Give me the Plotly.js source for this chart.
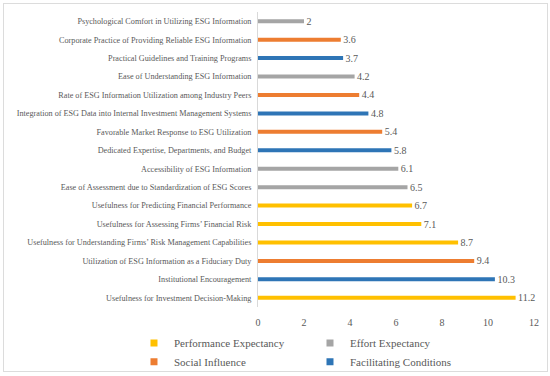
<!DOCTYPE html>
<html>
<head>
<meta charset="utf-8">
<script src="https://cdn.plot.ly/plotly-3.0.1.min.js"></script>
<style>
html,body{margin:0;padding:0;background:#fff;}
#wrap{position:relative;width:550px;height:376px;}
#chart{width:550px;height:376px;}
#frame{position:absolute;left:3px;top:3px;width:543px;height:367px;border:1px solid #DCDCDC;pointer-events:none;}
</style>
</head>
<body>
<div id="wrap"><div id="chart"></div><div id="frame"></div></div>
<script>
// Categories listed bottom to top
var categories = [
  "Usefulness for Investment Decision-Making",
  "Institutional Encouragement",
  "Utilization of ESG Information as a Fiduciary Duty",
  "Usefulness for Understanding Firms\u2019 Risk Management Capabilities",
  "Usefulness for Assessing Firms\u2019 Financial Risk",
  "Usefulness for Predicting Financial Performance",
  "Ease of Assessment due to Standardization of ESG Scores",
  "Accessibility of ESG Information",
  "Dedicated Expertise, Departments, and Budget",
  "Favorable Market Response to ESG Utilization",
  "Integration of ESG Data into Internal Investment Management Systems",
  "Rate of ESG Information Utilization among Industry Peers",
  "Ease of Understanding ESG Information",
  "Practical Guidelines and Training Programs",
  "Corporate Practice of Providing Reliable ESG Information",
  "Psychological Comfort in Utilizing ESG Information"
];
var values = [11.2, 10.3, 9.4, 8.7, 7.1, 6.7, 6.5, 6.1, 5.8, 5.4, 4.8, 4.4, 4.2, 3.7, 3.6, 2];
var groups = ["Performance Expectancy","Facilitating Conditions","Social Influence","Performance Expectancy",
  "Performance Expectancy","Performance Expectancy","Effort Expectancy","Effort Expectancy",
  "Facilitating Conditions","Social Influence","Facilitating Conditions","Social Influence",
  "Effort Expectancy","Facilitating Conditions","Social Influence","Effort Expectancy"];
var groupNames = ["Performance Expectancy","Effort Expectancy","Social Influence","Facilitating Conditions"];
var groupColors = ["#FFC000","#A5A5A5","#ED7D31","#2E75B6"];
var groupLegend = ["legend","legend","legend2","legend2"];
var xTicks = [0, 2, 4, 6, 8, 10, 12];

var font = "'Liberation Serif', 'DejaVu Serif', serif";
var traces = [];
groupNames.forEach(function(g, gi){
  var xs = [], ys = [], ts = [];
  for (var i = 0; i < categories.length; i++) {
    if (groups[i] === g) { xs.push(values[i]); ys.push(categories[i]); ts.push("\u00A0" + values[i]); }
  }
  traces.push({
    type: 'bar', orientation: 'h', x: xs, y: ys, name: g,
    marker: {color: groupColors[gi]},
    text: ts, textposition: 'outside', constraintext: 'none', cliponaxis: false,
    textfont: {family: font, size: 10, color: '#595959'},
    showlegend: false, hoverinfo: 'x+y'
  });
});
groupNames.forEach(function(g, gi){
  traces.push({
    type: 'scatter', mode: 'markers', x: [null], y: [null], name: g,
    marker: {symbol: 'square', size: 7, color: groupColors[gi]},
    legend: groupLegend[gi], showlegend: true, hoverinfo: 'skip'
  });
});

var legendCommon = {
  orientation: 'h', xanchor: 'left', yanchor: 'middle',
  xref: 'paper', yref: 'paper',
  font: {family: font, size: 11, color: '#595959'},
  bgcolor: 'rgba(0,0,0,0)', entrywidth: 131, entrywidthmode: 'pixels',
  itemclick: false, itemdoubleclick: false
};

var layout = {
  width: 550, height: 376,
  margin: {l: 258, r: 16, t: 12, b: 69, autoexpand: false},
  paper_bgcolor: '#fff', plot_bgcolor: '#fff',
  barmode: 'overlay', bargap: 0.78,
  font: {family: font, color: '#595959'},
  xaxis: {
    range: [0, 12], tickvals: xTicks, ticktext: xTicks.map(String),
    showgrid: false, zeroline: false, showline: false, ticks: '',
    ticklabelstandoff: 8,
    tickfont: {family: font, size: 10, color: '#595959'}, fixedrange: true
  },
  yaxis: {
    type: 'category', categoryorder: 'array', categoryarray: categories,
    range: [-0.5, categories.length - 0.5],
    showgrid: false, zeroline: false, showline: true, linecolor: '#D9D9D9', linewidth: 1,
    ticks: '', ticklabelstandoff: 4,
    tickfont: {family: font, size: 8.2, color: '#595959'}, fixedrange: true
  },
  legend: Object.assign({}, legendCommon, {x: -0.4493, y: -0.122}),
  legend2: Object.assign({}, legendCommon, {x: -0.4493, y: -0.186}),
  showlegend: true
};

Plotly.newPlot('chart', traces, layout, {displayModeBar: false, staticPlot: true});
</script>
</body>
</html>
